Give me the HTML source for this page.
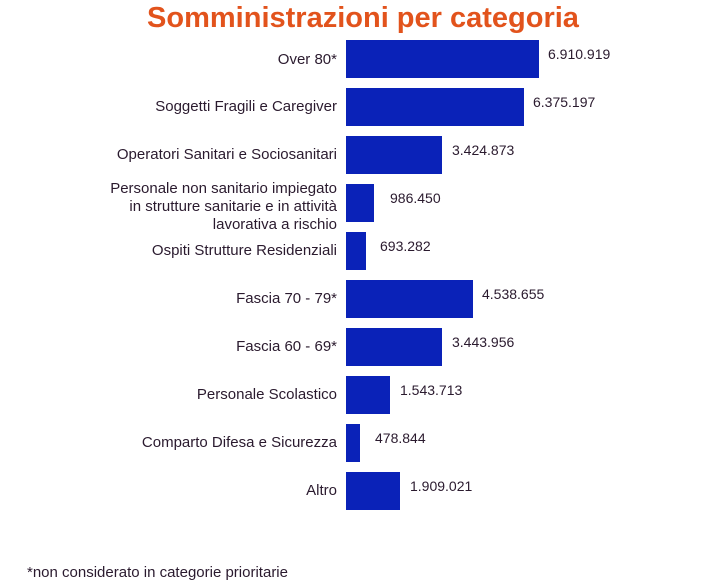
<!DOCTYPE html>
<html><head><style>
body{margin:0;background:#fff;width:722px;height:584px;position:relative;overflow:hidden;font-family:"Liberation Sans",sans-serif;}
.t{position:absolute;left:0;width:722px;text-align:center;top:2px;font-size:29px;font-weight:bold;color:#e2531c;margin-left:2px}
.l{position:absolute;right:385px;text-align:right;font-size:15px;color:#2a1a2e;line-height:18px}
.b{position:absolute;left:346px;height:38px;background:#0a22b8}
.v{position:absolute;font-size:14px;color:#2a1a2e}
.f{position:absolute;left:27px;top:564px;font-size:15px;color:#2a1a2e}
</style></head><body>
<div class="t">Somministrazioni per categoria</div>
<div class="b" style="top:40px;width:193px"></div><div class="v" style="top:46px;left:548px">6.910.919</div><div class="l" style="top:51px">Over 80*</div>
<div class="b" style="top:88px;width:178px"></div><div class="v" style="top:94px;left:533px">6.375.197</div><div class="l" style="top:98px">Soggetti Fragili e Caregiver</div>
<div class="b" style="top:136px;width:96px"></div><div class="v" style="top:142px;left:452px">3.424.873</div><div class="l" style="top:146px">Operatori Sanitari e Sociosanitari</div>
<div class="b" style="top:184px;width:28px"></div><div class="v" style="top:190px;left:390px">986.450</div><div class="l" style="top:180px">Personale non sanitario impiegato<br>in strutture sanitarie e in attività<br>lavorativa a rischio</div>
<div class="b" style="top:232px;width:20px"></div><div class="v" style="top:238px;left:380px">693.282</div><div class="l" style="top:242px">Ospiti Strutture Residenziali</div>
<div class="b" style="top:280px;width:127px"></div><div class="v" style="top:286px;left:482px">4.538.655</div><div class="l" style="top:290px">Fascia 70 - 79*</div>
<div class="b" style="top:328px;width:96px"></div><div class="v" style="top:334px;left:452px">3.443.956</div><div class="l" style="top:338px">Fascia 60 - 69*</div>
<div class="b" style="top:376px;width:44px"></div><div class="v" style="top:382px;left:400px">1.543.713</div><div class="l" style="top:386px">Personale Scolastico</div>
<div class="b" style="top:424px;width:14px"></div><div class="v" style="top:430px;left:375px">478.844</div><div class="l" style="top:434px">Comparto Difesa e Sicurezza</div>
<div class="b" style="top:472px;width:54px"></div><div class="v" style="top:478px;left:410px">1.909.021</div><div class="l" style="top:482px">Altro</div>
<div class="f">*non considerato in categorie prioritarie</div>
</body></html>
